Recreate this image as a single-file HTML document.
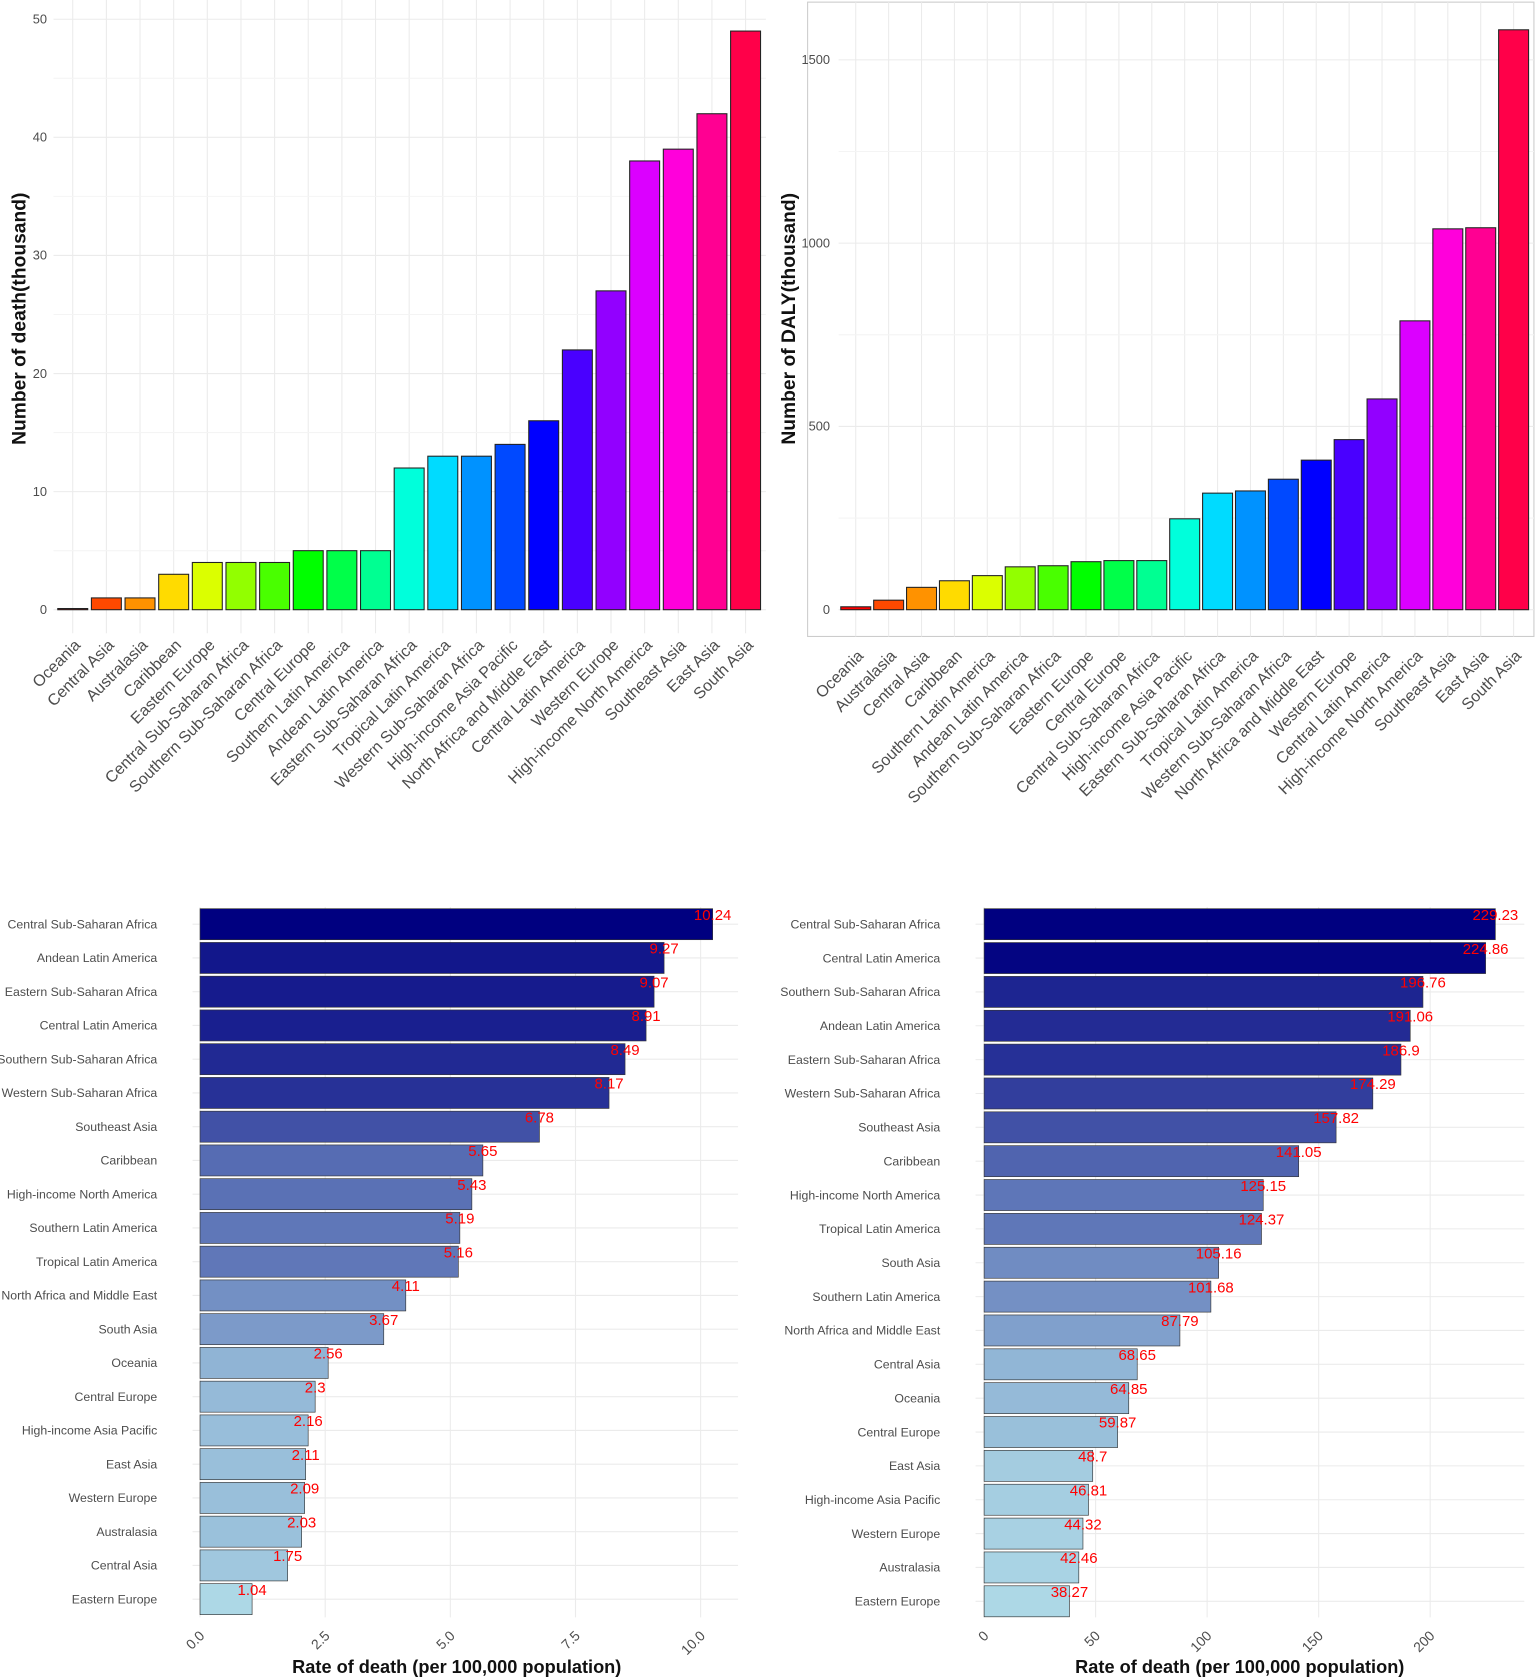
<!DOCTYPE html>
<html><head><meta charset="utf-8"><style>
body{margin:0;background:#fff;}
svg{display:block;font-family:"Liberation Sans",Arial,sans-serif;}
</style></head><body>
<svg id="s" width="1535" height="1678" viewBox="0 0 1435 1568.7" preserveAspectRatio="none" xmlns="http://www.w3.org/2000/svg">
<rect x="755" y="2" width="679" height="593" fill="none" stroke="#cccccc"/>
<g id="g"></g>
</svg>
<script>
// Panel A: deaths
const catsA=["Oceania","Central Asia","Australasia","Caribbean","Eastern Europe","Central Sub-Saharan Africa","Southern Sub-Saharan Africa","Central Europe","Southern Latin America","Andean Latin America","Eastern Sub-Saharan Africa","Tropical Latin America","Western Sub-Saharan Africa","High-income Asia Pacific","North Africa and Middle East","Central Latin America","Western Europe","High-income North America","Southeast Asia","East Asia","South Asia"];
const valsA=[0.1,1,1,3,4,4,4,5,5,5,12,13,13,14,16,22,27,38,39,42,49];
const ticksA=[0,10,20,30,40,50];
// Panel B: DALY
const catsB=["Oceania","Australasia","Central Asia","Caribbean","Southern Latin America","Andean Latin America","Southern Sub-Saharan Africa","Eastern Europe","Central Europe","Central Sub-Saharan Africa","High-income Asia Pacific","Eastern Sub-Saharan Africa","Tropical Latin America","Western Sub-Saharan Africa","North Africa and Middle East","Western Europe","Central Latin America","High-income North America","Southeast Asia","East Asia","South Asia"];
const valsB=[8,26,61,79,93,117,120,131,134,134,248,318,324,356,408,464,575,788,1039,1042,1582];
const ticksB=[0,500,1000,1500];
// Panel C: death rate
const catsC=["Central Sub-Saharan Africa","Andean Latin America","Eastern Sub-Saharan Africa","Central Latin America","Southern Sub-Saharan Africa","Western Sub-Saharan Africa","Southeast Asia","Caribbean","High-income North America","Southern Latin America","Tropical Latin America","North Africa and Middle East","South Asia","Oceania","Central Europe","High-income Asia Pacific","East Asia","Western Europe","Australasia","Central Asia","Eastern Europe"];
const valsC=[10.24,9.27,9.07,8.91,8.49,8.17,6.78,5.65,5.43,5.19,5.16,4.11,3.67,2.56,2.3,2.16,2.11,2.09,2.03,1.75,1.04];
const ticksC=[0,2.5,5,7.5,10];
const tickLabC=["0.0","2.5","5.0","7.5","10.0"];
// Panel D: rate (right)
const catsD=["Central Sub-Saharan Africa","Central Latin America","Southern Sub-Saharan Africa","Andean Latin America","Eastern Sub-Saharan Africa","Western Sub-Saharan Africa","Southeast Asia","Caribbean","High-income North America","Tropical Latin America","South Asia","Southern Latin America","North Africa and Middle East","Central Asia","Oceania","Central Europe","East Asia","High-income Asia Pacific","Western Europe","Australasia","Eastern Europe"];
const valsD=[229.23,224.86,196.76,191.06,186.9,174.29,157.82,141.05,125.15,124.37,105.16,101.68,87.79,68.65,64.85,59.87,48.7,46.81,44.32,42.46,38.27];
const ticksD=[0,50,100,150,200];
const tickLabD=["0","50","100","150","200"];

const NS="http://www.w3.org/2000/svg";
const G=document.getElementById('g');
function mk(tag,attrs,txt){const e=document.createElementNS(NS,tag);for(const k in attrs)e.setAttribute(k,attrs[k]);if(txt!==undefined)e.textContent=txt;G.appendChild(e);return e;}

function vertical(cats,vals,ticks,o){
  const y=v=>o.y0-v*o.k;
  const x=i=>o.x0+i*o.step;
  for(let i=0;i<cats.length;i++){const l=mk('line',{x1:x(i),x2:x(i),y1:o.top,y2:o.bot,stroke:'#ebebeb','stroke-width':1});
    }
  ticks.forEach((t,j)=>{
    const l=mk('line',{x1:o.left,x2:o.right,y1:y(t),y2:y(t),stroke:'#ebebeb','stroke-width':1});
    
    if(j<ticks.length-1){const m=mk('line',{x1:o.left,x2:o.right,y1:y(t+(ticks[1]-ticks[0])/2),y2:y(t+(ticks[1]-ticks[0])/2),stroke:'#f4f4f4','stroke-width':1});
      }
    const tl=mk('text',{x:o.tickX,y:y(t)+4,'text-anchor':'end','font-size':12,fill:'#4d4d4d'},String(t));
    
  });
  const n=cats.length;
  cats.forEach((c,i)=>{
    const h=vals[i]*o.k;
    const r=mk('rect',{x:x(i)-o.bw/2,y:o.y0-h,width:o.bw,height:Math.max(h,0.5),fill:`hsl(${i/n*360},100%,50%)`,stroke:'#222','stroke-width':1});
    
    const lx=x(i)+8,ly=o.labY;
    const t=mk('text',{x:lx,y:ly,'text-anchor':'end','font-size':15,fill:'#4d4d4d',transform:`rotate(-45 ${lx} ${ly})`},c);
    
  });
  const ax=mk('text',{x:o.titleX,y:o.titleY,'text-anchor':'middle','font-size':18,'font-weight':'bold',fill:'#111',transform:`rotate(-90 ${o.titleX} ${o.titleY})`},o.title);
  
}

function lerp(a,b,t){return Math.round(a+(b-a)*t);}
function horizontal(cats,vals,ticks,labs,o){
  const x=v=>o.x0+v*o.k;
  const y=i=>o.y0+i*o.step;
  const mx=Math.max(...vals);
  ticks.forEach((t,j)=>{
    const l=mk('line',{x1:x(t),x2:x(t),y1:o.top,y2:o.bot,stroke:'#ebebeb'});
    
    const tx=x(t)+5,ty=o.bot+18;
    const tl=mk('text',{x:tx,y:ty,'text-anchor':'end','font-size':13,fill:'#4d4d4d',transform:`rotate(-45 ${tx} ${ty})`},labs[j]);
    
  });
  cats.forEach((c,i)=>{
    const gl=mk('line',{x1:o.left,x2:o.right,y1:y(i),y2:y(i),stroke:'#ebebeb'});
    
    const f=(vals[i]-Math.min(...vals))/(mx-Math.min(...vals));
    const col=`rgb(${lerp(173,0,f)},${lerp(216,0,f)},${lerp(230,128,f)})`;
    const r=mk('rect',{x:o.x0,y:y(i)-14.5,width:x(vals[i])-o.x0,height:29,fill:col,stroke:'#333','stroke-width':0.6});
    
    const t=mk('text',{x:o.labX,y:y(i)+4,'text-anchor':'end','font-size':11.5,fill:'#4d4d4d'},c);
    
    const v=mk('text',{x:x(vals[i]),y:y(i)-4,'text-anchor':'middle','font-size':14,fill:'#ff0000'},String(vals[i]));
    
  });
  const at=mk('text',{x:o.titleX,y:1564,'text-anchor':'middle','font-size':17,'font-weight':'bold',fill:'#111'},'Rate of death (per 100,000 population)');
  
}

vertical(catsA,valsA,ticksA,{x0:68,step:31.45,bw:28,y0:570,k:11.04,top:0,bot:592,left:50,right:716,tickX:44,labY:604,titleX:24,titleY:298,title:'Number of death(thousand)'});
vertical(catsB,valsB,ticksB,{x0:800,step:30.75,bw:28,y0:570,k:0.3427,top:2,bot:595,left:784,right:1434,tickX:776,labY:614,titleX:743,titleY:298,title:'Number of DALY(thousand)'});
horizontal(catsC,valsC,ticksC,tickLabC,{x0:187,k:46.8,y0:864,step:31.55,top:848,bot:1512,left:180,right:690,labX:147,titleX:427});
horizontal(catsD,valsD,ticksD,tickLabD,{x0:920,k:2.085,y0:864,step:31.65,top:848,bot:1512,left:912,right:1425,labX:879,titleX:1159});
</script>
</body></html>
